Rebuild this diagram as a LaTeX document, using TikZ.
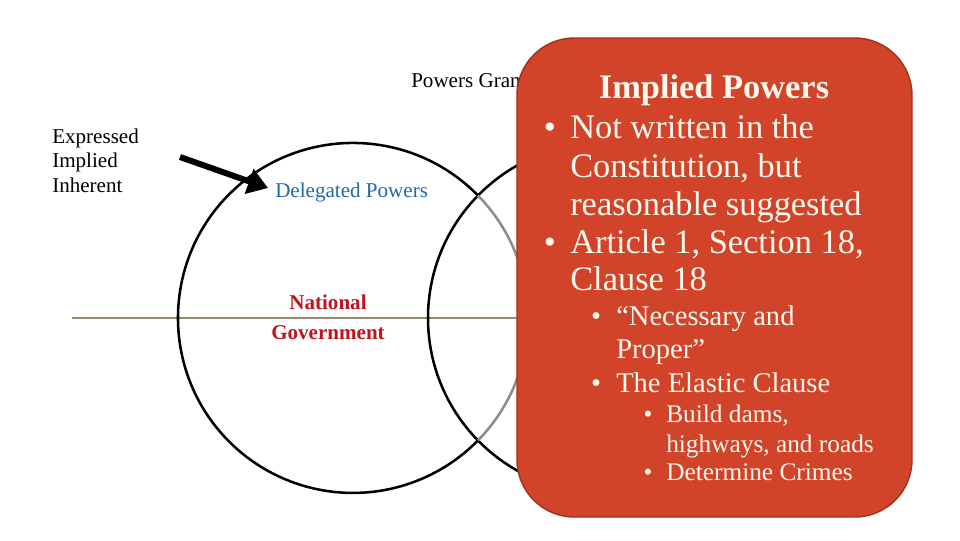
\documentclass[tikz,border=0pt]{standalone}
\usepackage{fontspec}
\setmainfont{Liberation Serif}
\usepackage{tikz}
\usetikzlibrary{arrows.meta,positioning,calc}
\usepackage{xcolor}
\definecolor{cardred}{HTML}{D14429}
\definecolor{cardedge}{HTML}{A0331F}
\definecolor{linetan}{HTML}{958A6E}
\definecolor{delblue}{HTML}{2468A8}
\definecolor{natred}{HTML}{C0141C}
\definecolor{cream}{HTML}{FFF8EE}
\tikzset{
  circ/.style    = {line width=1.9pt, black},
  incirc/.style  = {line width=1.9pt, color=black!45},
  midline/.style = {line width=2.2pt, linetan},
  ptr/.style     = {line width=4.5pt, -{Triangle[length=15pt,width=19pt]}},
  card/.style    = {fill=cardred, draw=cardedge, line width=1.1pt, rounded corners=43pt},
  lbl/.style     = {inner sep=0pt, anchor=base west, font=\fontsize{15.8}{19}\selectfont},
  lvla/.style    = {inner sep=0pt, anchor=base west, text=cream, font=\fontsize{25.8}{31}\selectfont},
  lvlb/.style    = {inner sep=0pt, anchor=base west, text=cream, font=\fontsize{21.4}{26}\selectfont},
  lvlc/.style    = {inner sep=0pt, anchor=base west, text=cream, font=\fontsize{19}{23}\selectfont},
  dota/.style    = {inner sep=0pt, anchor=base, text=cream, font=\fontsize{25.8}{31}\selectfont},
  dotb/.style    = {inner sep=0pt, anchor=base, text=cream, font=\fontsize{21.4}{26}\selectfont},
  dotc/.style    = {inner sep=0pt, anchor=base, text=cream, font=\fontsize{19}{23}\selectfont},
}
\begin{document}
\begin{tikzpicture}[x=0.75pt,y=-0.75pt]
\useasboundingbox (0,0) rectangle (960,540);
% venn circles and the line through them
\coordinate (lc) at (353,318);
\coordinate (rc) at (603,318);
\coordinate (xtop) at (478,195.5);
\coordinate (hl) at (72,318);
\coordinate (hr) at (700,318);
\draw[midline] (hl) -- (hr);
\draw[circ] (rc) circle[radius=175];
\draw[circ] (xtop) arc[start angle=-44.4, end angle=-315.6, radius=175];
\draw[incirc] (xtop) arc[start angle=-44.4, end angle=44.4, radius=175];
% labels on the left
\node[lbl] (exp) at (52,143) {Expressed};
\node[lbl] (imp) at (52,167.5) {Implied};
\node[lbl] (inh) at (52,192) {Inherent};
\node[lbl,text=delblue] (del) at (275,197) {Delegated Powers};
\node[lbl,anchor=base,font=\fontsize{15.8}{19}\selectfont\bfseries,text=natred] (nat) at (328,309) {National};
\node[lbl,anchor=base,font=\fontsize{15.8}{19}\selectfont\bfseries,text=natred] (gov) at (328,339) {Government};
\node[lbl] (pg) at (411,87) {Powers Gran};
\coordinate (ps) at (180,157);
\coordinate (pe) at (268,188);
\draw[ptr] (ps) -- (pe);
% the card
\path[card] (517,38) rectangle (912,517);
\node[lvla,anchor=base,font=\fontsize{25.8}{31}\selectfont\bfseries] (ttl) at (714,98) {Implied Powers};
\node[dota] (d1) at (550,138) {\textbullet};
\node[lvla] (t1a) at (570,138) {Not written in the};
\node[lvla] (t1b) at (570,177) {Constitution, but};
\node[lvla] (t1c) at (570,215) {reasonable suggested};
\node[dota] (d2) at (550,253) {\textbullet};
\node[lvla] (t2a) at (570,253) {Article 1, Section 18,};
\node[lvla] (t2b) at (570,290) {Clause 18};
\node[dotb] (d3) at (596,325) {\textbullet};
\node[lvlb] (t3a) at (616,325) {“Necessary and};
\node[lvlb] (t3b) at (616,358) {Proper”};
\node[dotb] (d4) at (596,392) {\textbullet};
\node[lvlb] (t4) at (616,392) {The Elastic Clause};
\node[dotc] (d5) at (648,422) {\textbullet};
\node[lvlc] (t5a) at (666,422) {Build dams,};
\node[lvlc] (t5b) at (666,452) {highways, and roads};
\node[dotc] (d6) at (648,480) {\textbullet};
\node[lvlc] (t6) at (666,480) {Determine Crimes};
\end{tikzpicture}
\end{document}
